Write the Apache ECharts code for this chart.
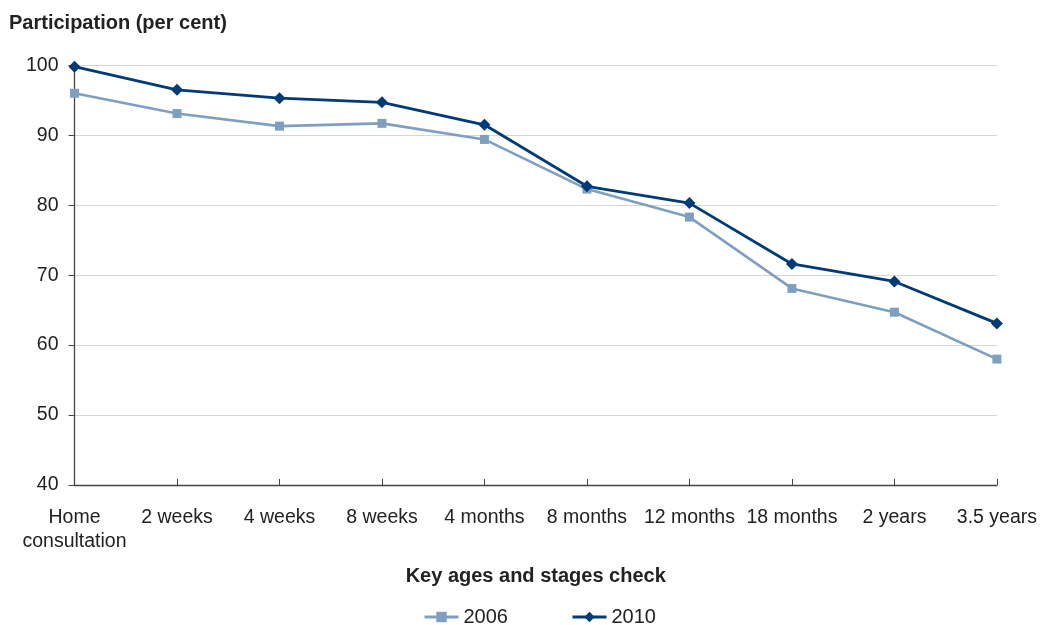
<!DOCTYPE html>
<html>
<head>
<meta charset="utf-8">
<script src="https://cdn.jsdelivr.net/npm/echarts@6/dist/echarts.min.js"></script>
<style>
  html, body { margin: 0; padding: 0; background: #fff; }
  #chart { width: 1040px; height: 625px; }
</style>
</head>
<body>
<div id="chart"></div>
<script>
// Key ages and stages checks
const categories = ['Home\nconsultation', '2 weeks', '4 weeks', '8 weeks', '4 months', '8 months', '12 months', '18 months', '2 years', '3.5 years'];
// Participation, per cent
const values2006 = [96.0, 93.1, 91.3, 91.7, 89.4, 82.3, 78.3, 68.1, 64.7, 58.0];
const values2010 = [99.8, 96.5, 95.3, 94.7, 91.5, 82.7, 80.3, 71.6, 69.1, 63.1];
const yTicks = { min: 40, max: 100, interval: 10 };

const FONT = '"Liberation Sans", Arial, sans-serif';
const diamond = 'path://M0,-1L1,0L0,1L-1,0Z';

const chart = echarts.init(document.getElementById('chart'), null, { renderer: 'canvas' });
chart.setOption({
  animation: false,
  textStyle: { fontFamily: FONT },
  title: {
    text: 'Participation (per cent)',
    left: 4, top: 8,
    textStyle: { fontFamily: FONT, fontSize: 20, fontWeight: 'bold', color: '#222' }
  },
  grid: { left: 74.5, right: 39.7, top: 65.3, bottom: 140, containLabel: false },
  legend: {
    left: 418, top: 602,
    itemWidth: 34, itemHeight: 13, itemGap: 63,
    lineStyle: { width: 3 },
    textStyle: { fontFamily: FONT, fontSize: 20, color: '#222' },
    data: ['2006', '2010']
  },
  xAxis: {
    type: 'category',
    data: categories,
    boundaryGap: false,
    name: 'Key ages and stages check',
    nameLocation: 'middle',
    nameGap: 81,
    nameTextStyle: { fontFamily: FONT, fontSize: 20, fontWeight: 'bold', color: '#222' },
    axisLine: { lineStyle: { color: '#444', width: 1.3 } },
    axisTick: { show: true, inside: true, length: 6, alignWithLabel: true, lineStyle: { color: '#444' } },
    axisLabel: { fontFamily: FONT, fontSize: 19.5, color: '#222', margin: 20, lineHeight: 24.5, interval: 0 },
    splitLine: { show: false }
  },
  yAxis: {
    type: 'value',
    min: yTicks.min, max: yTicks.max, interval: yTicks.interval,
    axisLine: { show: true, lineStyle: { color: '#444', width: 1.3 } },
    axisTick: { show: true, length: 6, lineStyle: { color: '#444' } },
    axisLabel: { fontFamily: FONT, fontSize: 19.5, color: '#222', margin: 16 },
    splitLine: { lineStyle: { color: '#d6d6d6', width: 1.2 } }
  },
  series: [
    {
      name: '2006', type: 'line', data: values2006,
      symbol: 'rect', symbolSize: 9,
      lineStyle: { color: '#7f9fc0', width: 2.6 },
      itemStyle: { color: '#7f9fc0' },
      z: 2
    },
    {
      name: '2010', type: 'line', data: values2010,
      symbol: diamond, symbolSize: 12,
      lineStyle: { color: '#003a78', width: 2.8 },
      itemStyle: { color: '#003a78' },
      z: 3
    }
  ]
});
</script>
</body>
</html>
